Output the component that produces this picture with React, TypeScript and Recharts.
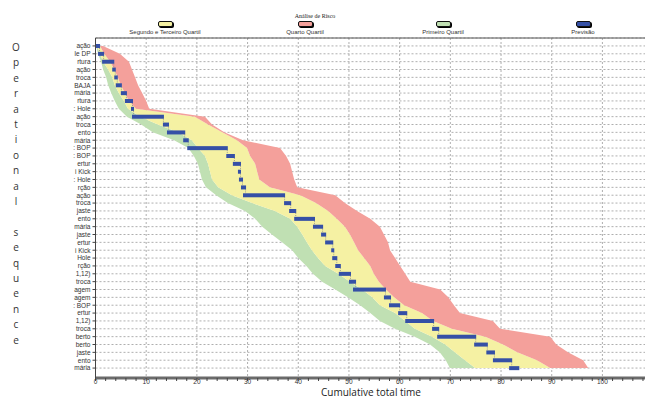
import React from "react";
import { ComposedChart, Area, Bar, XAxis, YAxis, CartesianGrid } from "recharts";

// operation labels (cropped in the source picture)
const labels = [
  "ação", "le DP", "rtura", "ação", "troca", "BAJA", "mária", "rtura", ": Hole", "ação",
  "troca", "ento", "mária", ": BOP", ": BOP", "ertur", "i Kick", ": Hole", "rção", "ação",
  "troca", "jaste", "ento", "mária", "jaste", "ertur", "i Kick", "Hole", "rção", "1,12)",
  "troca", "agem", "agem", ": BOP", "ertur", "1,12)", "troca", "berto", "berto", "jaste",
  "ento", "mária",
];

// forecast (Previsão) start / end of each operation
const taskStart = [
  0, 0.5, 1.3, 3.3, 3.7, 4.0, 5.0, 5.8, 7.0, 7.2,
  13.3, 14.1, 17.3, 18.1, 25.8, 27.1, 28.1, 28.3, 28.7, 29.1,
  37.2, 38.2, 39.2, 42.9, 44.5, 45.3, 46.5, 46.7, 47.3, 48.0,
  50.0, 50.8, 56.9, 57.9, 59.7, 61.1, 66.4, 67.4, 74.7, 77.1,
  78.4, 81.6,
];
const taskEnd = [
  0.9, 1.7, 3.7, 4.0, 4.4, 5.2, 6.2, 7.4, 7.6, 13.5,
  14.5, 17.7, 18.4, 26.1, 27.5, 28.7, 28.7, 29.1, 29.7, 37.4,
  38.6, 39.6, 43.3, 44.9, 45.5, 46.9, 47.1, 47.7, 48.4, 50.4,
  51.4, 57.3, 58.3, 60.1, 61.5, 66.8, 67.8, 75.1, 77.4, 78.8,
  82.2, 83.6,
];

// risk bands: first quartile from greenFrom to yellowFrom,
// 2nd/3rd quartile to redFrom, fourth quartile to redTo
const greenFrom = [
  0.1, 0.5, 1.1, 1.5, 2.1, 2.5, 3.1, 3.8, 4.6, 6.2,
  9.0, 11.3, 15.5, 18.3, 19.4, 20.2, 20.6, 21.0, 21.8, 23.8,
  26.1, 29.5, 31.5, 32.9, 34.8, 36.8, 38.8, 40.0, 41.6, 42.9,
  44.7, 47.3, 49.8, 52.2, 54.2, 56.1, 59.1, 63.0, 66.0, 67.9,
  69.1, 69.9,
];
const yellowFrom = [
  0.3, 0.9, 1.5, 2.5, 3.3, 3.8, 4.6, 5.6, 6.4, 8.8,
  12.3, 16.3, 19.0, 20.2, 21.6, 22.2, 22.6, 23.0, 24.2, 26.9,
  30.9, 35.4, 38.4, 39.8, 40.8, 41.7, 42.7, 43.9, 45.3, 47.9,
  50.2, 52.6, 54.6, 56.1, 59.1, 61.1, 63.0, 66.4, 69.0, 70.9,
  72.9, 74.9,
];
const redFrom = [
  0.9, 1.7, 2.9, 3.7, 4.4, 5.0, 5.8, 6.6, 8.0, 19.6,
  22.2, 25.0, 27.9, 29.9, 30.5, 31.5, 31.9, 32.3, 34.4, 40.4,
  43.5, 45.9, 47.6, 49.2, 50.2, 51.0, 51.8, 53.0, 54.2, 54.9,
  55.9, 57.3, 58.9, 60.9, 64.4, 66.6, 70.3, 76.9, 80.4, 83.2,
  87.1, 89.7,
];
const redTo = [
  1.5, 4.8, 6.6, 7.2, 7.8, 8.4, 9.2, 10.0, 10.6, 21.6,
  23.0, 25.4, 29.1, 36.4, 37.6, 38.4, 38.8, 39.2, 39.8, 47.3,
  49.2, 51.6, 54.2, 56.1, 56.9, 57.7, 58.1, 59.1, 60.1, 61.1,
  62.1, 68.0, 69.6, 70.7, 71.9, 78.4, 79.8, 89.7, 90.9, 93.2,
  96.2, 97.2,
];

const xTicks = [
  0, 2, 4, 6, 8, 10, 12, 14, 16, 18, 20, 22, 24, 26, 28, 30, 32, 34, 36, 38,
  40, 42, 44, 46, 48, 50, 52, 54, 56, 58, 60, 62, 64, 66, 68, 70, 72, 74, 76, 78,
  80, 82, 84, 86, 88, 90, 92, 94, 96, 98, 100, 102, 104, 106, 108,
];
const majorTicks = [0, 10, 20, 30, 40, 50, 60, 70, 80, 90, 100];

const legendItems = [
  { name: "Segundo e Terceiro Quartil", color: "#f5f1a3", cx: 165 },
  { name: "Quarto Quartil", color: "#f4a09b", cx: 305 },
  { name: "Primeiro Quartil", color: "#c0e0b3", cx: 443 },
  { name: "Previsão", color: "#3550a6", cx: 583 },
];

const X_MAX = 108.4;
const ROW_STEP = 7.88;

const rows = labels.map((label, i) => ({
  idx: i,
  label,
  base: greenFrom[i],
  green: yellowFrom[i] - greenFrom[i],
  yellow: redFrom[i] - yellowFrom[i],
  red: redTo[i] - redFrom[i],
  offset: taskStart[i],
  dur: taskEnd[i] - taskStart[i],
}));

const TaskBar = (props: any) => {
  const { x, y, width, height, index } = props;
  return (
    <g>
      {index < labels.length - 1 && (
        <line
          x1={x + width - 0.5}
          x2={x + width - 0.5}
          y1={y + height}
          y2={y + ROW_STEP}
          stroke="#8a8a8a"
          strokeWidth={0.8}
          strokeDasharray="1 1"
        />
      )}
      <rect x={x} y={y} width={width} height={height} fill="#3550a6" />
    </g>
  );
};

const sideTitle = "Operational sequence".split("");

export default function App() {
  return (
    <div
      style={{
        position: "absolute",
        left: 0,
        top: 0,
        width: 645,
        height: 397,
        background: "#fff",
        overflow: "hidden",
        fontFamily: "'Liberation Sans', Arial, sans-serif",
      }}
    >
      <div
        style={{
          position: "absolute",
          left: 265,
          width: 100,
          top: 13,
          textAlign: "center",
          fontFamily: "'Liberation Serif', serif",
          fontSize: 6,
          color: "#222",
        }}
      >
        Análise de Risco
      </div>
      {legendItems.map((it) => (
        <div key={it.name}>
          <div
            style={{
              position: "absolute",
              left: it.cx - 7,
              top: 21,
              width: 13,
              height: 4,
              background: it.color,
              border: "1px solid #111",
              borderRadius: 2,
              boxShadow: "1px 1px 0 #000",
            }}
          />
          <div
            style={{
              position: "absolute",
              left: it.cx - 60,
              width: 120,
              top: 29,
              textAlign: "center",
              fontSize: 6,
              lineHeight: "7px",
              color: "#333",
            }}
          >
            {it.name}
          </div>
        </div>
      ))}
      {sideTitle.map((ch, i) => (
        <div
          key={i}
          style={{
            position: "absolute",
            left: 6,
            width: 20,
            top: 40 + i * 15.4,
            textAlign: "center",
            fontFamily: "'Open Sans', sans-serif",
            fontSize: 10,
            lineHeight: "14px",
            color: "#333",
          }}
        >
          {ch}
        </div>
      ))}
      <div
        style={{
          position: "absolute",
          left: 296,
          width: 150,
          top: 386.5,
          textAlign: "center",
          fontFamily: "'Open Sans', sans-serif",
          fontSize: 10,
          lineHeight: "10px",
          color: "#222",
        }}
      >
        Cumulative total time
      </div>
      <div style={{ position: "absolute", left: 0, top: 0 }}>
        <ComposedChart
          layout="vertical"
          width={645}
          height={397}
          data={rows}
          margin={{ top: 37, right: 0, left: 0, bottom: 0 }}
          barCategoryGap={0}
        >
          <CartesianGrid
            stroke="#9a9a9a"
            strokeDasharray="2 2"
            strokeWidth={0.8}
            verticalCoordinatesGenerator={({ offset }: any) =>
              majorTicks.map((v) => offset.left + (v / X_MAX) * offset.width)
            }
          />
          <XAxis
            type="number"
            domain={[0, X_MAX]}
            ticks={xTicks}
            interval={0}
            allowDataOverflow
            height={19}
            tickSize={3}
            tickMargin={0}
            tickFormatter={(v: number) => (v % 10 === 0 ? String(v) : "")}
            tick={{ fontSize: 6.5, fill: "#333", dy: -1.5 }}
            axisLine={{ stroke: "#6b6b6b", strokeWidth: 3 }}
            tickLine={{ stroke: "#444" }}
          />
          <XAxis
            xAxisId="top"
            orientation="top"
            type="number"
            domain={[0, X_MAX]}
            height={1}
            tick={false}
            tickLine={false}
            axisLine={{ stroke: "#555" }}
          />
          <YAxis
            type="category"
            dataKey="idx"
            width={95.5}
            interval={0}
            padding={{ top: 4, bottom: 6 }}
            tickSize={3}
            tickFormatter={(i: number) => labels[i]}
            tick={{ fontSize: 6.5, fill: "#333" }}
            axisLine={{ stroke: "#444" }}
            tickLine={{ stroke: "#444" }}
          />
          <Area type="linear" dataKey="base" stackId="band" stroke="none" fill="none" isAnimationActive={false} />
          <Area type="linear" dataKey="green" stackId="band" stroke="none" fill="#c0e0b3" fillOpacity={1} isAnimationActive={false} />
          <Area type="linear" dataKey="yellow" stackId="band" stroke="none" fill="#f5f1a3" fillOpacity={1} isAnimationActive={false} />
          <Area type="linear" dataKey="red" stackId="band" stroke="none" fill="#f4a09b" fillOpacity={1} isAnimationActive={false} />
          <Bar dataKey="offset" stackId="task" fill="transparent" barSize={4} isAnimationActive={false} />
          <Bar dataKey="dur" stackId="task" barSize={4} shape={TaskBar} isAnimationActive={false} />
        </ComposedChart>
      </div>
    </div>
  );
}
